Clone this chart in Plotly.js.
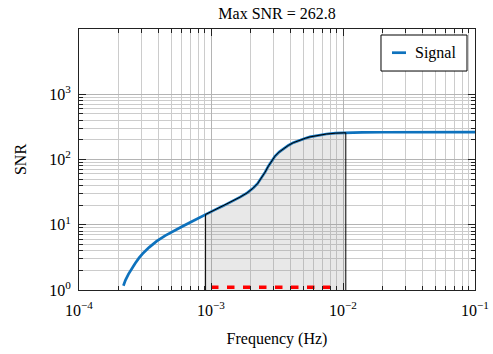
<!DOCTYPE html>
<html>
<head>
<meta charset="utf-8">
<script src="https://cdn.plot.ly/plotly-3.0.1.min.js"></script>
<style>
  html, body { margin: 0; padding: 0; background: #fff; }
  #chart { width: 493px; height: 354px; }
</style>
</head>
<body>
<div id="chart"></div>
<script>
// Cumulative SNR against frequency
const freq = [2.17e-4, 2.25e-4, 2.37e-4, 2.5e-4, 2.66e-4, 2.85e-4, 3.07e-4, 3.4e-4,
              3.88e-4, 4.5e-4, 5.18e-4, 6e-4, 6.93e-4, 8e-4, 9.1e-4, 1.05e-3,
              1.24e-3, 1.45e-3, 1.66e-3, 1.88e-3, 2.09e-3, 2.25e-3, 2.42e-3, 2.57e-3,
              2.72e-3, 2.88e-3, 3.05e-3, 3.28e-3, 3.53e-3, 3.85e-3, 4.2e-3, 4.72e-3,
              5.2e-3, 5.62e-3, 6.5e-3, 7.5e-3, 8.8e-3, 1.05e-2, 1.4e-2, 2e-2,
              3e-2, 5e-2, 1e-1];
const snr  = [1.16, 1.42, 1.75, 2.1, 2.55, 3.1, 3.7, 4.5,
              5.6, 6.8, 8.0, 9.3, 10.8, 12.6, 14.4, 16.6,
              19.5, 22.8, 26.5, 30.8, 36.5, 42.5, 52, 64,
              79, 95, 112, 130, 146, 164, 181, 199,
              212, 222, 236, 246, 253, 257, 260, 261.6,
              262.3, 262.7, 262.8];

// Integration band shaded under the curve
const bandLimits = [9.1e-4, 1.05e-2];
const bandFloor = 1;

// Red dashed marker along the bottom
const markerFreq = [1e-3, 8e-3];
const markerSNR  = [1.1, 1.1];

const seriesName = 'Signal';
const maxSNR = 262.8;

// Axis ticks
const xMajor = [1e-4, 1e-3, 1e-2, 1e-1];
const xMajorText = ['10<sup>\u22124</sup>', '10<sup>\u22123</sup>', '10<sup>\u22122</sup>', '10<sup>\u22121</sup>'];
const yMajor = [1, 10, 100, 1000];
const yMajorText = ['10<sup>0</sup>', '10<sup>1</sup>', '10<sup>2</sup>', '10<sup>3</sup>'];
const xMinorDecades = [1e-4, 1e-3, 1e-2];
const yMinorDecades = [1, 10, 100];
const minorDigits = [2, 3, 4, 5, 6, 7, 8, 9];

function minorValues(decades) {
  const out = [];
  decades.forEach(d => minorDigits.forEach(m => out.push(m * d)));
  return out;
}

// Polygon for the shaded band: floor -> curve -> floor
const bandX = [], bandY = [];
bandX.push(bandLimits[0]); bandY.push(bandFloor);
freq.forEach((f, i) => {
  if (f >= bandLimits[0] && f <= bandLimits[1]) { bandX.push(f); bandY.push(snr[i]); }
});
bandX.push(bandLimits[1]); bandY.push(bandFloor);

const FONT = 'Liberation Serif';
const BLUE = '#0e72bd';

const traces = [
  {
    x: freq, y: snr, type: 'scatter', mode: 'lines', name: seriesName,
    line: { color: BLUE, width: 2.7 },
    showlegend: false, hoverinfo: 'skip'
  },
  {
    x: bandX, y: bandY, type: 'scatter', mode: 'lines', fill: 'toself',
    fillcolor: 'rgba(140,140,140,0.2)',
    line: { color: '#000', width: 1 },
    showlegend: false, hoverinfo: 'skip'
  },
  {
    x: markerFreq, y: markerSNR, type: 'scatter', mode: 'lines',
    line: { color: '#ff0000', width: 3.6, dash: '7.5px,8.5px' },
    showlegend: false, hoverinfo: 'skip'
  }
];

const axisCommon = {
  type: 'log',
  showline: true, linecolor: '#222', linewidth: 1,
  mirror: 'ticks',
  ticks: 'inside', ticklen: 7, tickwidth: 1, tickcolor: '#222',
  showgrid: true, gridcolor: '#b4b4b4', gridwidth: 1,
  zeroline: false,
  tickfont: { family: FONT, size: 16, color: '#000' },
  tickmode: 'array'
};

const layout = {
  width: 493, height: 354,
  margin: { l: 79, r: 18, t: 29, b: 64 },
  paper_bgcolor: '#fff', plot_bgcolor: '#fff',
  font: { family: FONT, size: 16, color: '#000' },
  title: {
    text: 'Max SNR = ' + maxSNR.toFixed(1),
    font: { family: FONT, size: 16, color: '#000' },
    x: 0.562, xanchor: 'center', y: 0.962, yanchor: 'middle'
  },
  xaxis: Object.assign({}, axisCommon, {
    range: [-4, -1],
    tickvals: xMajor, ticktext: xMajorText,
    ticklabelstandoff: 6,
    title: { text: 'Frequency (Hz)', font: { family: FONT, size: 16 }, standoff: 14 },
    minor: {
      tickmode: 'array', tickvals: minorValues(xMinorDecades),
      ticks: 'inside', ticklen: 4, tickwidth: 1, tickcolor: '#222',
      showgrid: true, gridcolor: '#cccccc', gridwidth: 1
    }
  }),
  yaxis: Object.assign({}, axisCommon, {
    range: [0, 4],
    tickvals: yMajor, ticktext: yMajorText,
    ticklabelstandoff: 4,
    title: { text: 'SNR', font: { family: FONT, size: 16 }, standoff: 18 },
    minor: {
      tickmode: 'array', tickvals: minorValues(yMinorDecades),
      ticks: 'inside', ticklen: 4, tickwidth: 1, tickcolor: '#222',
      showgrid: true, gridcolor: '#cccccc', gridwidth: 1
    }
  }),
  shapes: [
    { type: 'rect', xref: 'paper', yref: 'paper', x0: 0.7626, x1: 0.9798, y0: 0.839, y1: 0.977,
      fillcolor: '#fff', line: { color: '#000', width: 1 }, layer: 'above' },
    { type: 'line', xref: 'paper', yref: 'paper', x0: 0.7904, x1: 0.8258, y0: 0.9092, y1: 0.9092,
      line: { color: BLUE, width: 2.7 }, layer: 'above' }
  ],
  annotations: [
    { xref: 'paper', yref: 'paper', x: 0.8434, y: 0.909, xanchor: 'left', yanchor: 'middle',
      text: seriesName, showarrow: false, font: { family: FONT, size: 16, color: '#000' } }
  ]
};

Plotly.newPlot('chart', traces, layout, { staticPlot: true, displayModeBar: false });
</script>
</body>
</html>
